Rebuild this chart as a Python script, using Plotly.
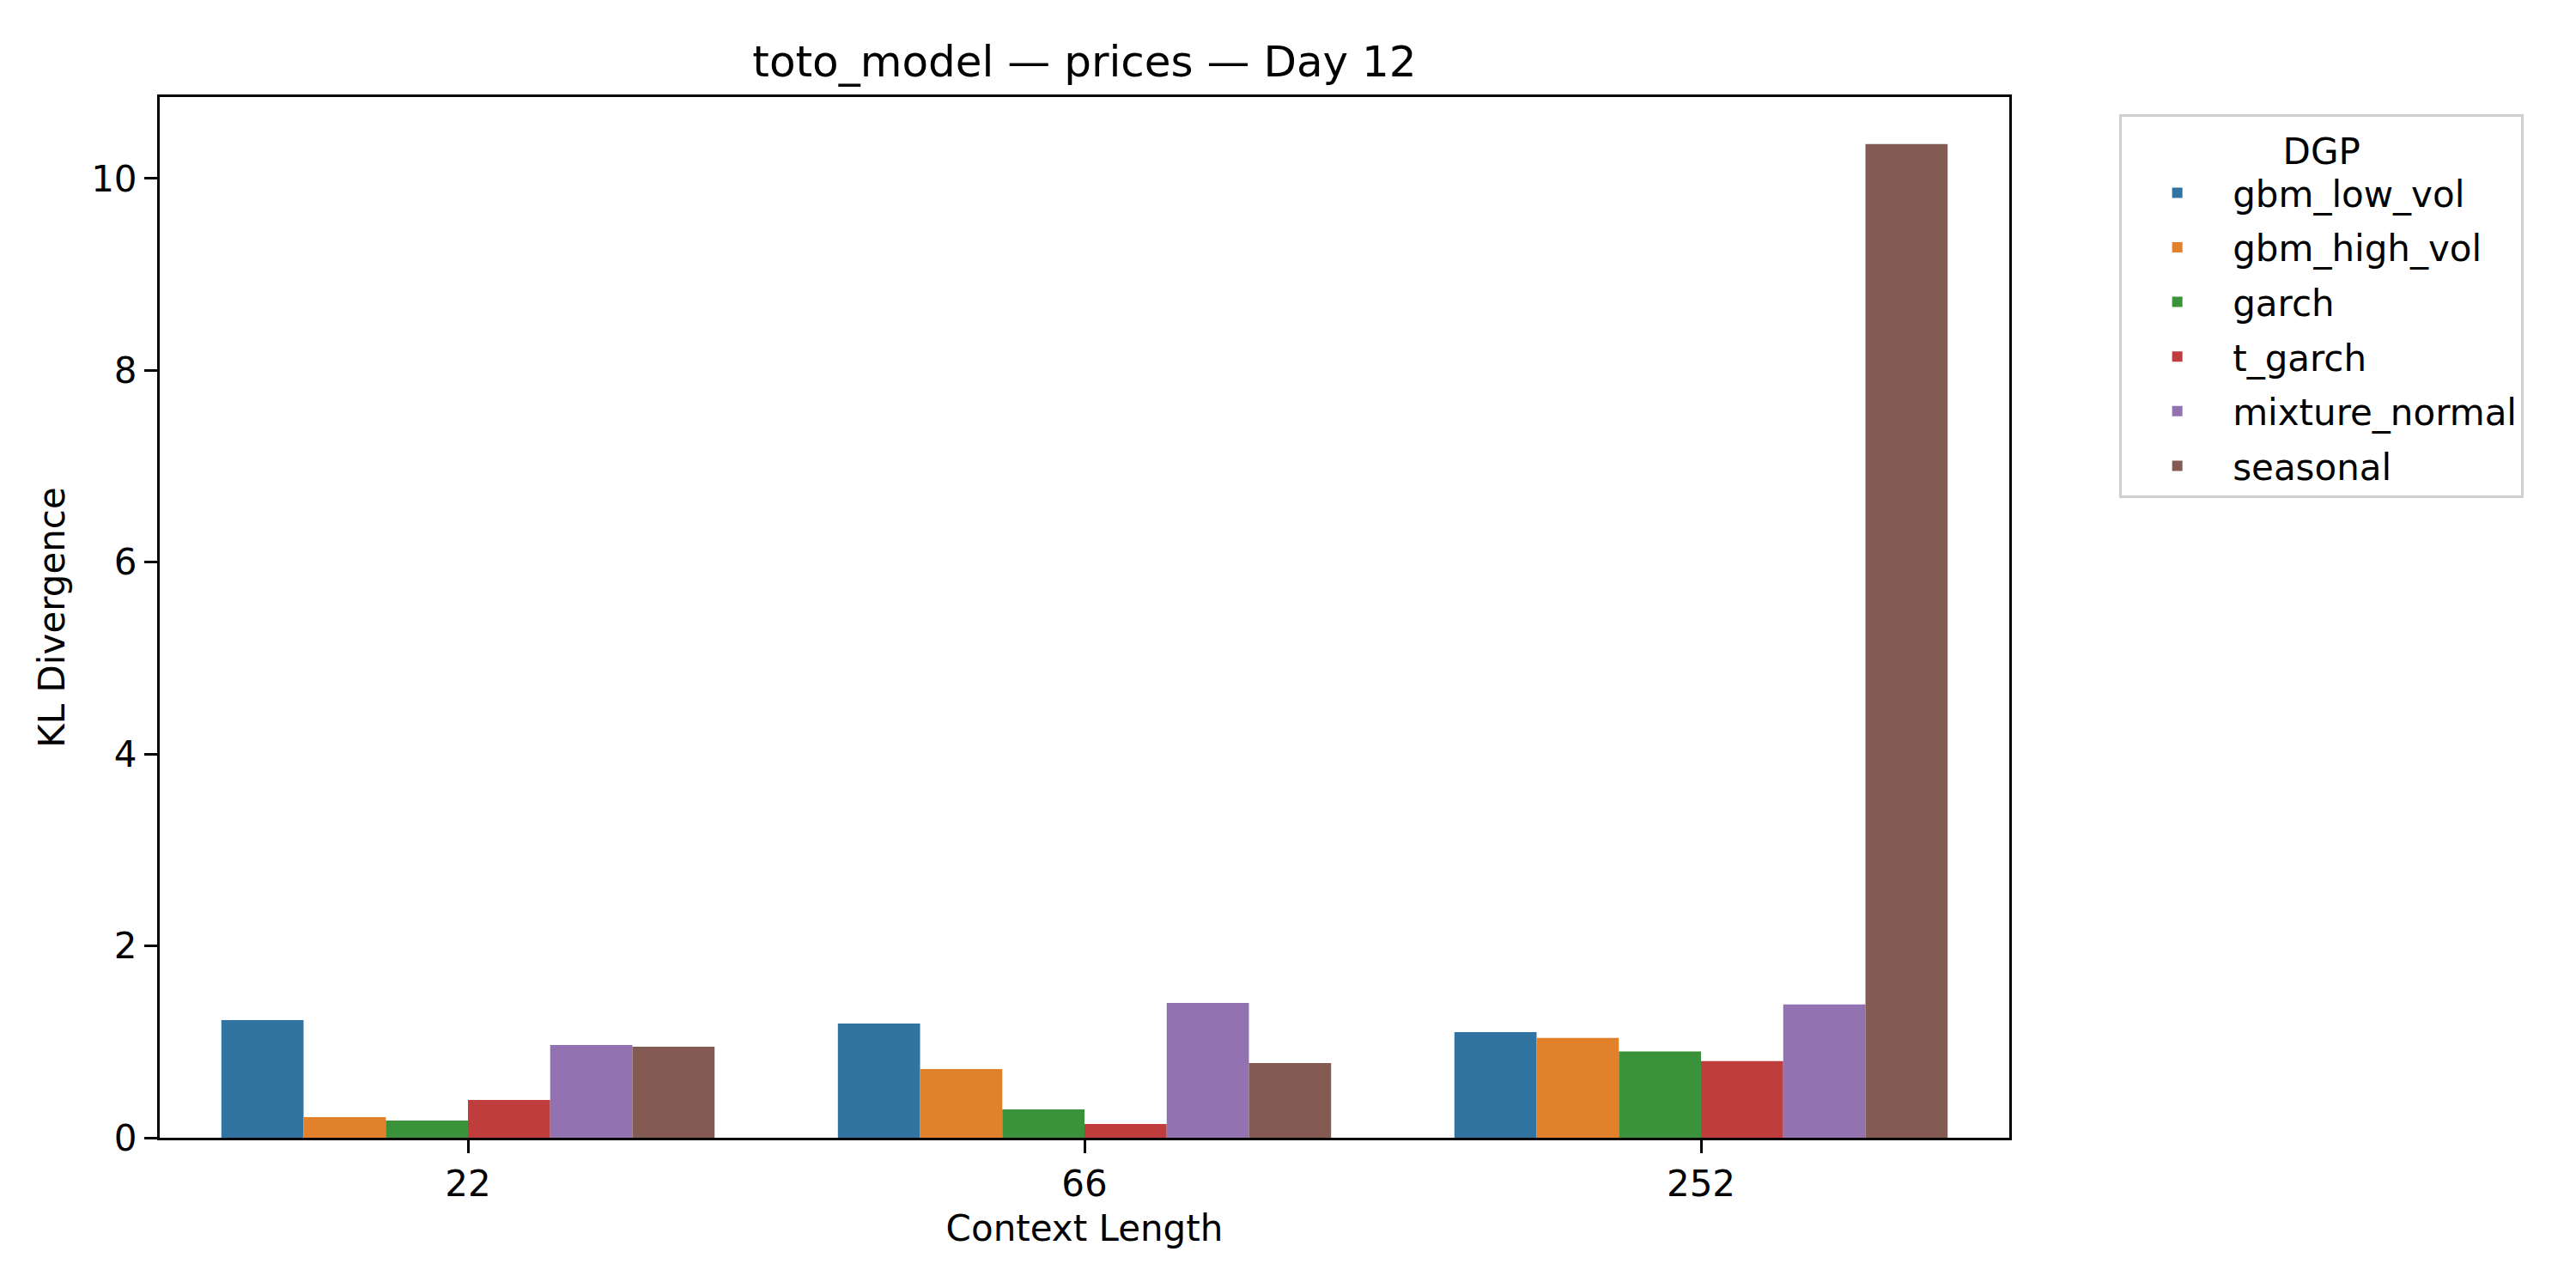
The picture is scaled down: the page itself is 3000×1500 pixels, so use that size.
import plotly.graph_objects as go

# Context lengths on the x axis (categorical)
Context_Lengths = ['22', '66', '252']

# KL divergence per data generating process
DGP_Names = ['gbm_low_vol', 'gbm_high_vol', 'garch', 't_garch',
             'mixture_normal', 'seasonal']
gbm_low_vol    = [1.227, 1.19, 1.10]
gbm_high_vol   = [0.215, 0.716, 1.04]
garch          = [0.18, 0.295, 0.90]
t_garch        = [0.394, 0.143, 0.80]
mixture_normal = [0.967, 1.405, 1.39]
seasonal       = [0.949, 0.779, 10.36]

Y_Ticks = [0, 2, 4, 6, 8, 10]

# seaborn "deep"-ish palette (tab10 desaturated)
Colors = ['#3274a1', '#e1812c', '#3a923a', '#c03d3e', '#9372b2', '#845b53']

Series = [gbm_low_vol, gbm_high_vol, garch, t_garch, mixture_normal, seasonal]

FONT = 'DejaVu Sans'
FS = 42      # 10pt at 300 dpi
FS_T = 50    # 12pt at 300 dpi

# the page body has an 8px margin, so the figure is 8px smaller than the window
W, H = 2992, 1492

fig = go.Figure()

for name, values, color in zip(DGP_Names, Series, Colors):
    fig.add_trace(go.Bar(
        x           = Context_Lengths,
        y           = values,
        name        = name,
        legendgroup = name,
        marker      = dict(color=color, line=dict(width=0)),
    ))

# plot area on the page: left 186, right 2340, top 113, bottom 1325
fig.update_layout(
    width=W,
    height=H,
    margin=dict(l=178, r=660, t=105, b=175),
    paper_bgcolor='white',
    plot_bgcolor='white',
    font=dict(family=FONT, size=FS, color='black'),
    barmode='group',
    bargap=0.2,
    bargroupgap=0,
    title=dict(text='toto_model — prices — Day 12',
               x=(1263 - 8) / W, xanchor='center',
               y=1 - (71 - 8) / H, yanchor='middle', yref='container',
               font=dict(family=FONT, size=FS_T, color='black')),
    legend=dict(
        title=dict(text='DGP', side='top center',
                   font=dict(family=FONT, size=FS)),
        x=1.0595, xanchor='left',
        y=0.9835, yanchor='top',
        bgcolor='white',
        bordercolor='#d0d0d0',
        borderwidth=3,
        itemwidth=119,
        tracegroupgap=6,
        font=dict(family=FONT, size=FS),
    ),
    xaxis=dict(
        type='category',
        range=[-0.5, 2.5],
        showline=True, linecolor='black', linewidth=3, mirror=True,
        ticks='outside', ticklen=15, tickwidth=3, tickcolor='black',
        showgrid=False, zeroline=False,
        title=dict(text='Context Length', standoff=14,
                   font=dict(family=FONT, size=FS)),
    ),
    yaxis=dict(
        range=[0, 10.85],
        tickvals=Y_Ticks,
        showline=True, linecolor='black', linewidth=3, mirror=True,
        ticks='outside', ticklen=15, tickwidth=3, tickcolor='black',
        showgrid=False, zeroline=False,
        title=dict(text='KL Divergence', standoff=18,
                   font=dict(family=FONT, size=FS)),
    ),
)

fig.write_html("out.html")
